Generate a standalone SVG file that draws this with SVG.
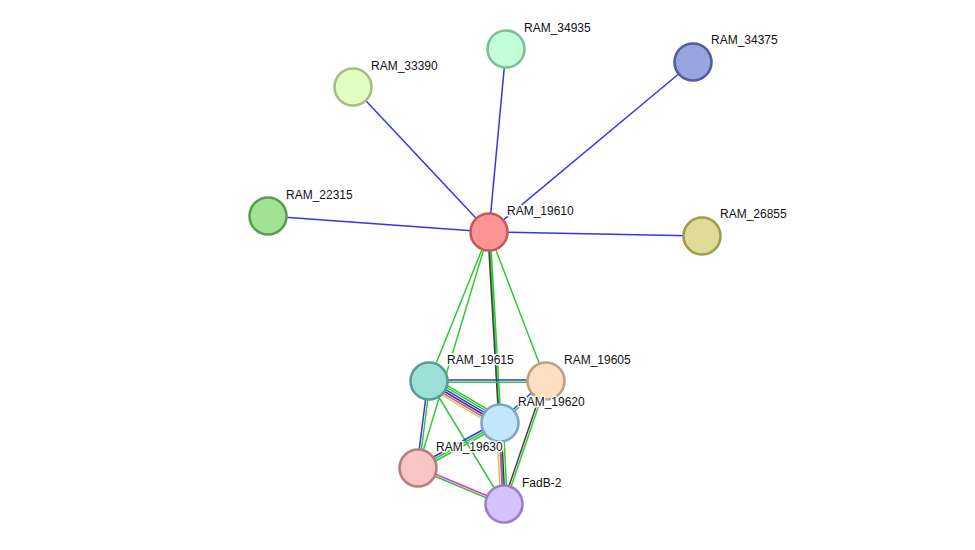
<svg xmlns="http://www.w3.org/2000/svg" width="975" height="550" viewBox="0 0 975 550">
<style>
.e line{stroke-width:1.5;fill:none}
.b{stroke:#3535f0}.g{stroke:#33c733}.k{stroke:#404040}.m{stroke:#e033e0}.y{stroke:#c4d43c}
.n circle{stroke-width:2.6}
.n text{font-family:"Liberation Sans",Arial,sans-serif;font-size:12px;fill:#111;stroke:#fff;stroke-width:3px;stroke-linejoin:round;paint-order:stroke fill}
</style>
<rect width="975" height="550" fill="#fff"/>
<g id="connectors" class="e">
<line class="b" x1="489" y1="232" x2="506" y2="49"/>
<line class="b" x1="489" y1="232" x2="693" y2="62"/>
<line class="b" x1="489" y1="232" x2="353" y2="87"/>
<line class="b" x1="489" y1="232" x2="268" y2="216"/>
<line class="b" x1="489" y1="232" x2="702" y2="236"/>
<line class="g" x1="489" y1="232" x2="429" y2="381"/>
<line class="g" x1="489" y1="232" x2="418" y2="468"/>
<line class="g" x1="489" y1="232" x2="546" y2="381"/>
<line class="g" x1="489" y1="232" x2="504" y2="504"/>
<line class="k" x1="487.9" y1="232" x2="498.9" y2="423"/>
<line class="g" x1="490.1" y1="232" x2="501.1" y2="423"/>
<line class="g" x1="431.8" y1="376.3" x2="502.8" y2="418.3"/>
<line class="g" x1="430.7" y1="378.2" x2="501.7" y2="420.2"/>
<line class="b" x1="429.6" y1="380.1" x2="500.6" y2="422.1"/>
<line class="k" x1="428.4" y1="382" x2="499.4" y2="424"/>
<line class="m" x1="427.3" y1="383.8" x2="498.3" y2="425.8"/>
<line class="y" x1="426.2" y1="385.7" x2="497.2" y2="427.7"/>
<line class="b" x1="429" y1="379.9" x2="546" y2="379.9"/>
<line class="g" x1="429" y1="382.2" x2="546" y2="382.2"/>
<line class="b" x1="427.9" y1="381" x2="416.9" y2="468"/>
<line class="g" x1="430.1" y1="381" x2="419.1" y2="468"/>
<line class="g" x1="429" y1="381" x2="504" y2="504"/>
<line class="b" x1="545.2" y1="380.2" x2="499.2" y2="422.2"/>
<line class="g" x1="546.8" y1="381.8" x2="500.8" y2="423.8"/>
<line class="k" x1="545" y1="380.6" x2="503" y2="503.6"/>
<line class="g" x1="547" y1="381.4" x2="505" y2="504.4"/>
<line class="b" x1="416.9" y1="466" x2="498.9" y2="421"/>
<line class="g" x1="418" y1="468" x2="500" y2="423"/>
<line class="g" x1="419.1" y1="470" x2="501.1" y2="425"/>
<line class="m" x1="418.4" y1="467" x2="504.4" y2="503"/>
<line class="g" x1="417.6" y1="469" x2="503.6" y2="505"/>
<line class="y" x1="496.7" y1="423" x2="500.7" y2="504"/>
<line class="m" x1="498.9" y1="423" x2="502.9" y2="504"/>
<line class="k" x1="501.1" y1="423" x2="505.1" y2="504"/>
<line class="g" x1="503.3" y1="423" x2="507.3" y2="504"/>
</g>
<g id="RAM_19610" class="n"><circle cx="489" cy="232" r="18.5" fill="#ff9494" stroke="#c25a5a"/><text x="507" y="215">RAM_19610</text></g>
<g id="RAM_34935" class="n"><circle cx="506" cy="49" r="18.5" fill="#c2ffd9" stroke="#7fbf98"/><text x="524" y="32">RAM_34935</text></g>
<g id="RAM_34375" class="n"><circle cx="693" cy="62" r="18.5" fill="#99a3e0" stroke="#4f5e9e"/><text x="711" y="44">RAM_34375</text></g>
<g id="RAM_33390" class="n"><circle cx="353" cy="87" r="18.5" fill="#e2ffc2" stroke="#a6bd87"/><text x="371" y="70">RAM_33390</text></g>
<g id="RAM_22315" class="n"><circle cx="268" cy="216" r="18.5" fill="#a2e295" stroke="#5d9c56"/><text x="286" y="199">RAM_22315</text></g>
<g id="RAM_26855" class="n"><circle cx="702" cy="236" r="18.5" fill="#e0dc98" stroke="#a09c4d"/><text x="720" y="218">RAM_26855</text></g>
<g id="RAM_19615" class="n"><circle cx="429" cy="381" r="18.5" fill="#9ae0d7" stroke="#5a9c94"/><text x="447" y="364">RAM_19615</text></g>
<g id="RAM_19605" class="n"><circle cx="546" cy="381" r="18.5" fill="#ffdfc2" stroke="#c0a080"/><text x="564" y="364">RAM_19605</text></g>
<g id="RAM_19620" class="n"><circle cx="500" cy="423" r="18.5" fill="#c2e6fc" stroke="#7fa6bf"/><text x="518" y="406">RAM_19620</text></g>
<g id="RAM_19630" class="n"><circle cx="418" cy="468" r="18.5" fill="#f8c4c4" stroke="#b47e7e"/><text x="436" y="451">RAM_19630</text></g>
<g id="FadB-2" class="n"><circle cx="504" cy="504" r="18.5" fill="#d4c2fc" stroke="#9a80c8"/><text x="522" y="487">FadB-2</text></g>
</svg>
